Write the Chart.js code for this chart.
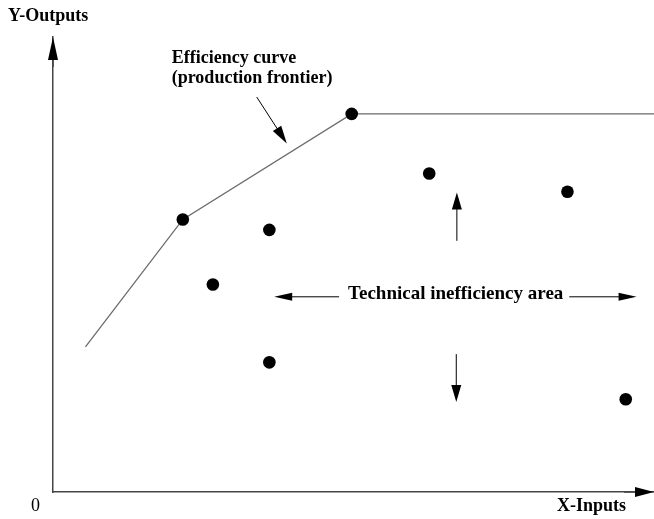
<!DOCTYPE html>
<html>
<head>
<meta charset="utf-8">
<script src="https://cdn.jsdelivr.net/npm/chart.js@4.4.1/dist/chart.umd.min.js"></script>
<style>
  html, body { margin: 0; padding: 0; background: #fff; }
  #wrap { width: 654px; height: 519px; position: relative; }
</style>
</head>
<body>
<div id="wrap"><canvas id="frontier-chart"></canvas></div>
<script>
// Frontier (efficiency curve) vertices, input / output units
var frontierX = [5.4, 21.6, 49.7, 100];
var frontierY = [31.9, 59.9, 83.1, 83.1];

// Decision units below the frontier (inefficient)
var unitsX = [26.6, 36.0, 36.0, 62.6, 85.6, 95.3];
var unitsY = [45.6, 57.6, 28.5, 70.0, 66.0, 20.4];

var axisMin = 0;
var axisMax = 100;

function toPoints(xs, ys) {
    return xs.map(function (x, i) { return { x: x, y: ys[i] }; });
}

var FONT_BOLD = 'bold 18px "Liberation Serif", "Times New Roman", serif';
var FONT_BOLD_WIDE = 'bold 19px "Liberation Serif", "Times New Roman", serif';
var FONT_REG = '18px "Liberation Serif", "Times New Roman", serif';

// filled arrow head at (tx,ty) pointing away from (fx,fy)
function arrow(ctx, fx, fy, tx, ty, headLen, headHalf) {
    var ang = Math.atan2(ty - fy, tx - fx);
    ctx.beginPath();
    ctx.moveTo(fx, fy);
    ctx.lineTo(tx - Math.cos(ang) * headLen * 0.8, ty - Math.sin(ang) * headLen * 0.8);
    ctx.stroke();
    ctx.beginPath();
    ctx.moveTo(tx, ty);
    ctx.lineTo(tx - Math.cos(ang) * headLen - Math.sin(ang) * headHalf,
               ty - Math.sin(ang) * headLen + Math.cos(ang) * headHalf);
    ctx.lineTo(tx - Math.cos(ang) * headLen + Math.sin(ang) * headHalf,
               ty - Math.sin(ang) * headLen - Math.cos(ang) * headHalf);
    ctx.closePath();
    ctx.fill();
}

var notesPlugin = {
    id: 'notes',
    afterDraw: function (chart) {
        var ctx = chart.ctx;
        var a = chart.chartArea;
        var xs = chart.scales.x, ys = chart.scales.y;
        function px(v) { return xs.getPixelForValue(v); }
        function py(v) { return ys.getPixelForValue(v); }

        ctx.save();
        ctx.fillStyle = '#000';

        // axis arrow heads
        ctx.strokeStyle = '#444';
        ctx.lineWidth = 1.5;
        arrow(ctx, a.left, a.top + 30, a.left, a.top, 23, 5);
        arrow(ctx, a.right - 30, a.bottom, a.right, a.bottom, 19, 5);

        // axis labels
        ctx.textBaseline = 'alphabetic';
        ctx.textAlign = 'left';
        ctx.font = FONT_BOLD;
        ctx.fillText('Y-Outputs', a.left - 45, a.top - 16);
        ctx.fillText('X-Inputs', a.right - 97, a.bottom + 19);
        ctx.font = FONT_REG;
        ctx.fillText('0', a.left - 22, a.bottom + 19);

        // frontier note
        ctx.font = FONT_BOLD;
        ctx.fillText('Efficiency curve', px(19.75), py(94.35));
        ctx.fillText('(production frontier)', px(19.75), py(89.8));
        ctx.strokeStyle = '#000';
        ctx.lineWidth = 1;
        arrow(ctx, px(33.9), py(86.8), px(38.9), py(76.6), 18, 5);

        // inefficiency area note
        ctx.textAlign = 'center';
        ctx.font = FONT_BOLD_WIDE;
        ctx.fillText('Technical inefficiency area', px(67.0), py(42.5));
        arrow(ctx, px(47.6), py(42.9), px(36.8), py(42.9), 18, 4);
        arrow(ctx, px(85.9), py(42.9), px(97.1), py(42.9), 18, 4);
        arrow(ctx, px(67.2), py(55.2), px(67.2), py(65.8), 17, 5);
        arrow(ctx, px(67.1), py(30.3), px(67.1), py(19.8), 17, 5);

        ctx.restore();
    }
};

new Chart(document.getElementById('frontier-chart'), {
    type: 'scatter',
    data: {
        datasets: [{
            label: 'Efficiency curve',
            data: toPoints(frontierX, frontierY),
            showLine: true,
            borderColor: '#6b6b6b',
            borderWidth: 1.3,
            pointRadius: [0, 6.3, 6.3, 0],
            pointBackgroundColor: '#000',
            pointBorderWidth: 0
        }, {
            label: 'Units',
            data: toPoints(unitsX, unitsY),
            pointRadius: 6.3,
            pointBackgroundColor: '#000',
            pointBorderWidth: 0
        }]
    },
    plugins: [notesPlugin],
    options: {
        responsive: true,
        maintainAspectRatio: false,
        animation: false,
        layout: { autoPadding: false, padding: { left: 53, top: 37, right: 0, bottom: 27 } },
        plugins: {
            legend: { display: false },
            tooltip: { enabled: false }
        },
        scales: {
            x: {
                type: 'linear',
                min: axisMin,
                max: axisMax,
                grid: { display: false, drawTicks: false },
                ticks: { display: false },
                border: { display: true, color: '#444', width: 1.5 }
            },
            y: {
                type: 'linear',
                min: axisMin,
                max: axisMax,
                grid: { display: false, drawTicks: false },
                ticks: { display: false },
                border: { display: true, color: '#444', width: 1.5 }
            }
        }
    }
});
</script>
</body>
</html>
